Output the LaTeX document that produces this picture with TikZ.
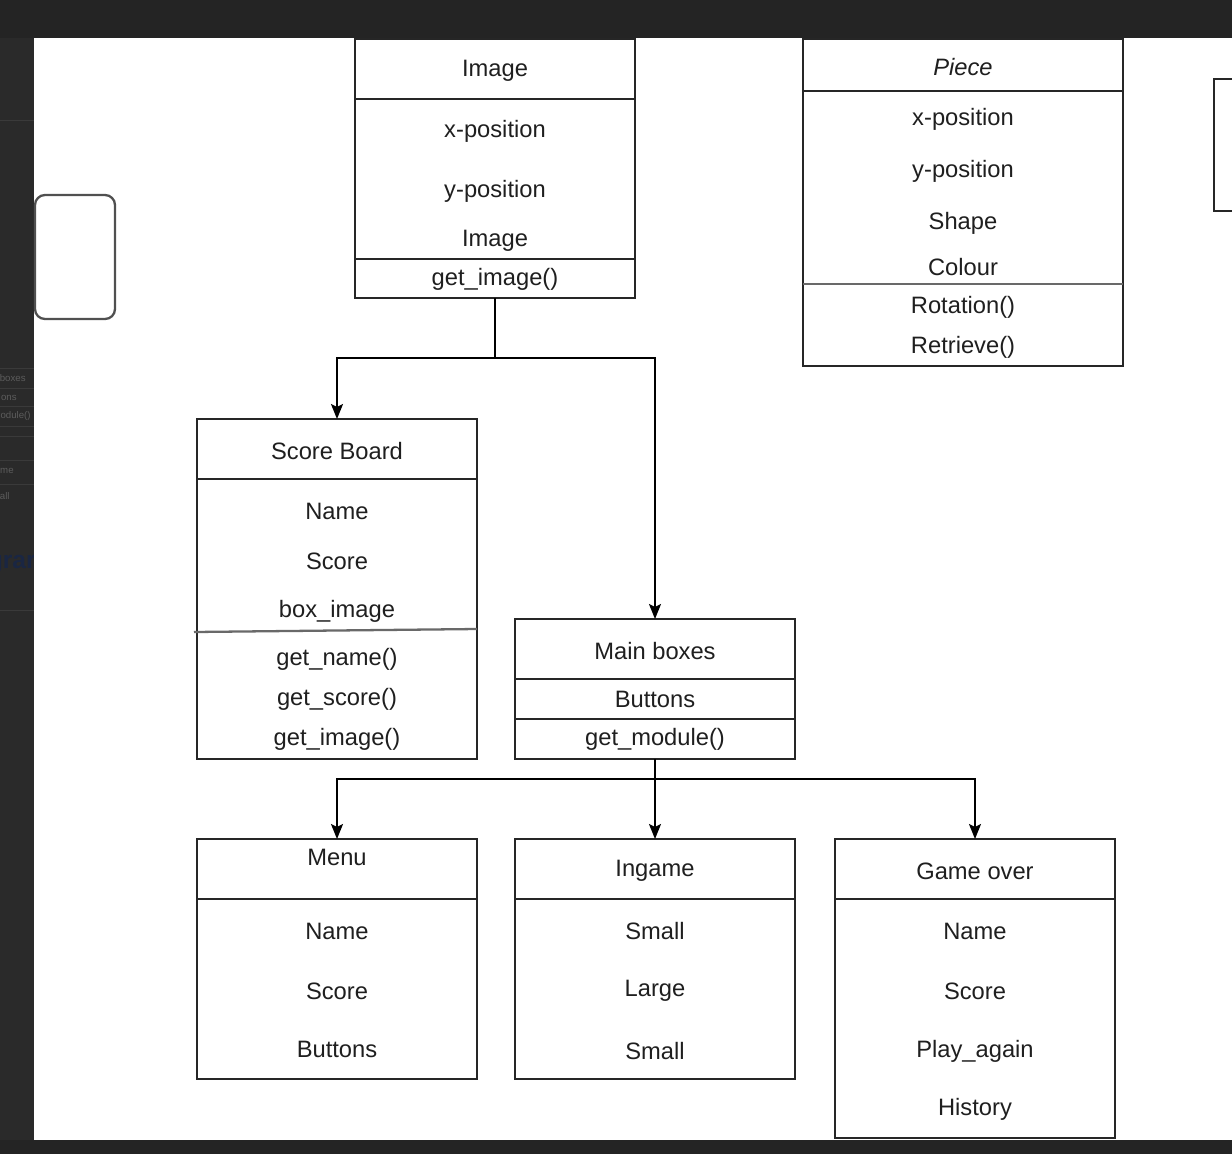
\documentclass[tikz,border=0pt]{standalone}
\usepackage{fontspec}
\setmainfont{Liberation Sans}
\usetikzlibrary{arrows.meta, positioning, calc}
\definecolor{frame}{RGB}{36,36,36}
\definecolor{sidebar}{RGB}{42,42,42}
\definecolor{sideline}{RGB}{58,58,58}
\definecolor{sidetext}{RGB}{92,92,92}
\definecolor{sidenavy}{RGB}{26,38,66}
\definecolor{boxline}{RGB}{38,38,38}
\definecolor{softline}{RGB}{105,105,105}
\definecolor{stubline}{RGB}{80,80,80}
\newlength{\pxu}
\setlength{\pxu}{0.02cm}
\tikzset{
  classbox/.style={rectangle, draw=boxline, fill=white, line width=1.1pt,
    anchor=north west, inner sep=0pt, outer sep=0pt, minimum width=280\pxu},
  member/.style={font=\fontsize{13.5}{16}\selectfont, text=black!88, inner sep=0pt, yshift=-0.04cm},
  divider/.style={draw=boxline, line width=1.1pt},
  softdivider/.style={draw=softline, line width=1.3pt},
  arrow/.style={-{Stealth[length=0.3cm, width=0.24cm, inset=0.06cm]}, line width=1.1pt, color=black},
  sidelbl/.style={font=\fontsize{5.5}{6}\selectfont, text=sidetext, anchor=east, inner sep=0pt}
}

\begin{document}
\begin{tikzpicture}[x=0.02cm, y=-0.02cm]
  \clip (0,0) rectangle (1232,1154);
  % screen around the canvas
  \fill[frame] (0,0) rectangle (1232,1154);
  \fill[sidebar] (0,38) rectangle (34,1140);
  \draw[sideline] (0,120) -- (34,120);
  \draw[sideline] (0,368) -- (34,368);
  \draw[sideline] (0,388) -- (34,388);
  \draw[sideline] (0,406) -- (34,406);
  \draw[sideline] (0,426) -- (34,426);
  \draw[sideline] (0,436) -- (34,436);
  \draw[sideline] (0,460) -- (34,460);
  \draw[sideline] (0,484) -- (34,484);
  \draw[sideline] (0,610) -- (34,610);
  \node[sidelbl] (side-a) at (26,378) {boxes};
  \node[sidelbl] (side-b) at (17,398) {ons};
  \node[sidelbl] (side-c) at (31,416) {odule()};
  \node[sidelbl] (side-d) at (14,471) {me};
  \node[sidelbl] (side-e) at (10,496) {all};
  \node[sidelbl, font=\fontsize{14}{16}\bfseries, text=sidenavy] (side-f) at (36,564) {grar};
  \fill[white] (34,38) rectangle (1232,1140);

  % stubs cut by the screen edges
  \node[rectangle, draw=stubline, line width=1.3pt, rounded corners=0.2cm, anchor=north west,
    outer sep=0pt, minimum width=80\pxu, minimum height=124\pxu] (stub-left) at (35,195) {};
  \node[classbox, minimum width=100\pxu, minimum height=132\pxu] (stub-right) at (1214,79) {};

  % Image
  \node[classbox, minimum height=259\pxu] (image) at (355,39) {};
  \draw[divider] (image.west |- 0,99) -- (image.east |- 0,99);
  \draw[divider] (image.west |- 0,259) -- (image.east |- 0,259);
  \node[member] (image-t) at (495,69) {Image};
  \node[member] (image-x) at (495,129) {x-position};
  \node[member] (image-y) at (495,189) {y-position};
  \node[member] (image-i) at (495,239) {Image};
  \node[member] (image-g) at (495,277) {get\_image()};

  % Piece
  \node[classbox, minimum width=320\pxu, minimum height=327\pxu] (piece) at (803,39) {};
  \draw[divider] (piece.west |- 0,91) -- (piece.east |- 0,91);
  \draw[softdivider] (piece.west |- 0,284) -- (piece.east |- 0,284);
  \node[member, font=\fontsize{13.5}{16}\itshape] (piece-t) at (963,65) {Piece};
  \node[member] (piece-x) at (963,117) {x-position};
  \node[member] (piece-y) at (963,169) {y-position};
  \node[member] (piece-s) at (963,221) {Shape};
  \node[member] (piece-c) at (963,265) {Colour};
  \node[member] (piece-r) at (963,305) {Rotation()};
  \node[member] (piece-g) at (963,345) {Retrieve()};

  % Score Board
  \node[classbox, minimum height=340\pxu] (score) at (197,419) {};
  \draw[divider] (score.west |- 0,479) -- (score.east |- 0,479);
  \draw[softdivider] ($(score.west |- 0,632)+(-3,0)$) -- (score.east |- 0,629);
  \node[member] (score-t) at (337,449) {Score Board};
  \node[member] (score-n) at (337,509) {Name};
  \node[member] (score-s) at (337,559) {Score};
  \node[member] (score-b) at (337,609) {box\_image};
  \node[member] (score-gn) at (337,657) {get\_name()};
  \node[member] (score-gs) at (337,697) {get\_score()};
  \node[member] (score-gi) at (337,737) {get\_image()};

  % Main boxes
  \node[classbox, minimum height=140\pxu] (mainb) at (515,619) {};
  \draw[divider] (mainb.west |- 0,679) -- (mainb.east |- 0,679);
  \draw[divider] (mainb.west |- 0,719) -- (mainb.east |- 0,719);
  \node[member] (mainb-t) at (655,649) {Main boxes};
  \node[member] (mainb-b) at (655,697) {Buttons};
  \node[member] (mainb-g) at (655,737) {get\_module()};

  % Menu
  \node[classbox, minimum height=240\pxu] (menu) at (197,839) {};
  \draw[divider] (menu.west |- 0,899) -- (menu.east |- 0,899);
  \node[member] (menu-t) at (337,855) {Menu};
  \node[member] (menu-n) at (337,929) {Name};
  \node[member] (menu-s) at (337,989) {Score};
  \node[member] (menu-b) at (337,1047) {Buttons};

  % Ingame
  \node[classbox, minimum height=240\pxu] (ingame) at (515,839) {};
  \draw[divider] (ingame.west |- 0,899) -- (ingame.east |- 0,899);
  \node[member] (ingame-t) at (655,869) {Ingame};
  \node[member] (ingame-s) at (655,929) {Small};
  \node[member] (ingame-l) at (655,989) {Large};
  \node[member] (ingame-s2) at (655,1049) {Small};

  % Game over
  \node[classbox, minimum height=299\pxu] (gameover) at (835,839) {};
  \draw[divider] (gameover.west |- 0,899) -- (gameover.east |- 0,899);
  \node[member] (gameover-t) at (975,869) {Game over};
  \node[member] (gameover-n) at (975,929) {Name};
  \node[member] (gameover-s) at (975,989) {Score};
  \node[member] (gameover-p) at (975,1049) {Play\_again};
  \node[member] (gameover-h) at (975,1107) {History};

  % connectors
  \coordinate (split-top) at ($(image.south)+(0,60)$);
  \coordinate (split-low) at ($(mainb.south)+(0,20)$);
  \draw[arrow] (image.south) -- (split-top) -| (score.north);
  \draw[arrow] (split-top) -| (mainb.north);
  \draw[arrow] (mainb.south) -- (split-low) -| (menu.north);
  \draw[arrow] (split-low) -- (ingame.north);
  \draw[arrow] (split-low) -| (gameover.north);
\end{tikzpicture}
\end{document}
